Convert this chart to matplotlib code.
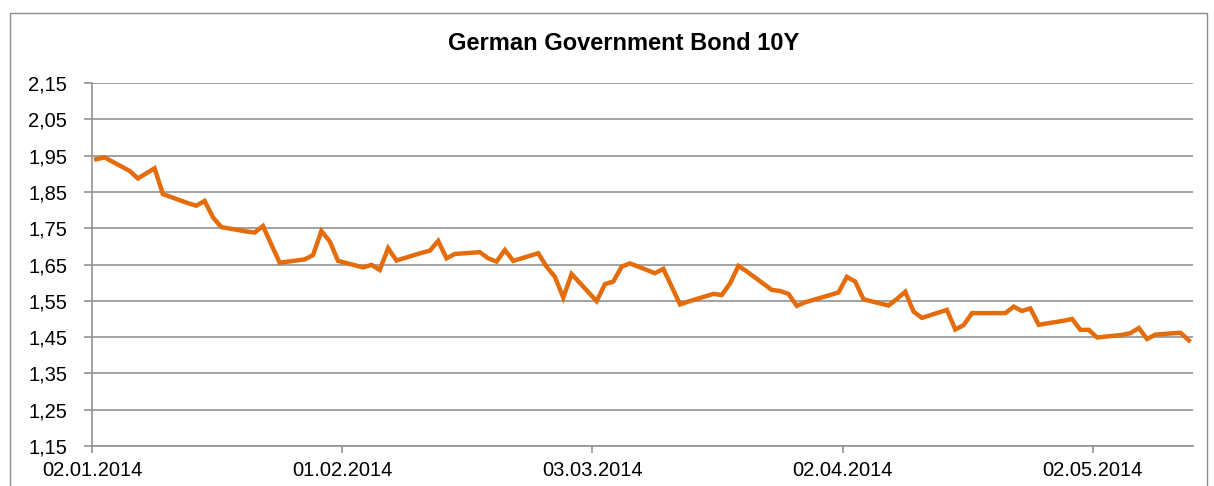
import matplotlib
matplotlib.use('Agg')
import matplotlib.pyplot as plt
import matplotlib.dates as mdates
from matplotlib.patches import Rectangle
from matplotlib.ticker import FuncFormatter
import numpy as np
import pandas as pd

# bund yield, business days
dates = ['02.01.2014', '03.01.2014', '06.01.2014', '07.01.2014', '08.01.2014', '09.01.2014',
         '10.01.2014', '13.01.2014', '14.01.2014', '15.01.2014', '16.01.2014', '17.01.2014',
         '20.01.2014', '21.01.2014', '22.01.2014', '23.01.2014', '24.01.2014', '27.01.2014',
         '28.01.2014', '29.01.2014', '30.01.2014', '31.01.2014', '03.02.2014', '04.02.2014',
         '05.02.2014', '06.02.2014', '07.02.2014', '10.02.2014', '11.02.2014', '12.02.2014',
         '13.02.2014', '14.02.2014', '17.02.2014', '18.02.2014', '19.02.2014', '20.02.2014',
         '21.02.2014', '24.02.2014', '25.02.2014', '26.02.2014', '27.02.2014', '28.02.2014',
         '03.03.2014', '04.03.2014', '05.03.2014', '06.03.2014', '07.03.2014', '10.03.2014',
         '11.03.2014', '12.03.2014', '13.03.2014', '14.03.2014', '17.03.2014', '18.03.2014',
         '19.03.2014', '20.03.2014', '21.03.2014', '24.03.2014', '25.03.2014', '26.03.2014',
         '27.03.2014', '28.03.2014', '31.03.2014', '01.04.2014', '02.04.2014', '03.04.2014',
         '04.04.2014', '07.04.2014', '08.04.2014', '09.04.2014', '10.04.2014', '11.04.2014',
         '14.04.2014', '15.04.2014', '16.04.2014', '17.04.2014', '18.04.2014', '21.04.2014',
         '22.04.2014', '23.04.2014', '24.04.2014', '25.04.2014', '28.04.2014', '29.04.2014',
         '30.04.2014', '01.05.2014', '02.05.2014', '05.05.2014', '06.05.2014', '07.05.2014',
         '08.05.2014', '09.05.2014', '12.05.2014', '13.05.2014']
yields = [1.940, 1.945, 1.908, 1.887, 1.901, 1.915,
          1.844, 1.819, 1.812, 1.825, 1.780, 1.753,
          1.741, 1.738, 1.756, 1.705, 1.655, 1.664,
          1.676, 1.742, 1.714, 1.660, 1.642, 1.649,
          1.635, 1.695, 1.661, 1.682, 1.688, 1.715,
          1.667, 1.679, 1.684, 1.667, 1.658, 1.690,
          1.660, 1.681, 1.644, 1.616, 1.559, 1.624,
          1.549, 1.596, 1.603, 1.644, 1.653, 1.626,
          1.638, 1.589, 1.540, 1.548, 1.569, 1.566,
          1.598, 1.646, 1.631, 1.580, 1.577, 1.569,
          1.536, 1.546, 1.566, 1.573, 1.616, 1.603,
          1.554, 1.537, 1.555, 1.575, 1.520, 1.503,
          1.525, 1.471, 1.483, 1.516, 1.516, 1.516,
          1.534, 1.522, 1.529, 1.484, 1.495, 1.500,
          1.470, 1.470, 1.449, 1.456, 1.461, 1.475,
          1.445, 1.457, 1.462, 1.441]

x_start = '02.01.2014'
x_end = '14.05.2014'
tick_step_days = 30
y_ticks = [1.15, 1.25, 1.35, 1.45, 1.55, 1.65, 1.75, 1.85, 1.95, 2.05, 2.15]
title = 'German Government Bond 10Y'

plt.rcParams['font.family'] = ['Liberation Sans', 'DejaVu Sans']

d = pd.to_datetime(dates, format='%d.%m.%Y') + pd.Timedelta(hours=12)  # points sit mid-day
t0 = pd.to_datetime(x_start, format='%d.%m.%Y')
t1 = pd.to_datetime(x_end, format='%d.%m.%Y')

fig = plt.figure(figsize=(12.14, 4.86), dpi=100)
ax = fig.add_axes([92/1214, 1-446/486, (1193-92)/1214, (446-83)/486])

# outer chart frame
fig.patches.append(Rectangle((10/1214, -0.1), (1207-10)/1214, 1.1-13/486,
                             transform=fig.transFigure, fill=False,
                             edgecolor='#8c8c8c', linewidth=1.0))

grey = '#929292'
for yv in y_ticks:
    ax.axhline(yv, color=grey, linewidth=1.2, zorder=1)

ax.plot(d, yields, color='#E46C0A', linewidth=3.2, solid_joinstyle='miter', zorder=3)

ax.set_xlim(t0, t1)
ax.set_ylim(y_ticks[0], y_ticks[-1])
ax.set_yticks(y_ticks)
ax.yaxis.set_major_formatter(FuncFormatter(lambda v, p: ('%.2f' % v).replace('.', ',')))
ax.set_xticks(pd.date_range(t0, t1, freq='%dD' % tick_step_days))
ax.xaxis.set_major_formatter(mdates.DateFormatter('%d.%m.%Y'))

for s in ['top', 'right']:
    ax.spines[s].set_visible(False)
for s in ['left', 'bottom']:
    ax.spines[s].set_color(grey)
    ax.spines[s].set_linewidth(1.2)
ax.tick_params(axis='y', length=6, width=1.2, color=grey, labelsize=14.5, pad=12)
ax.tick_params(axis='x', length=5, width=1.2, color=grey, labelsize=14.5, pad=6)

fig.text(624/1214, 1-44/486, title, ha='center', va='center',
         fontsize=17, fontweight='bold')

fig.savefig('out.png', dpi=100)
